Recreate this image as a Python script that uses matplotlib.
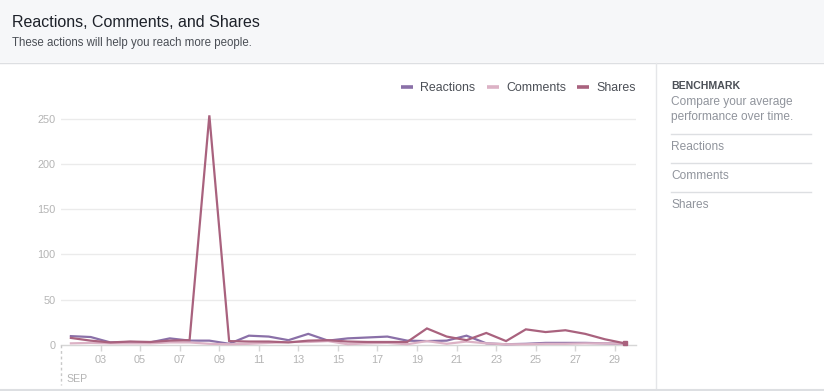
import matplotlib
matplotlib.use('Agg')
import matplotlib.pyplot as plt
from matplotlib.patches import Rectangle
from matplotlib.lines import Line2D

# daily values, Sep 1 .. Sep 29
days = list(range(1, 30))
reactions = [9.5, 8.5, 2.5, 3, 2.5, 7, 4.5, 4.5, 1, 10, 9, 5, 12, 4.5, 7, 8, 9, 4.5, 4, 4.5,
             10, 1.5, 0.5, 1, 2, 2, 2, 1.5, 1]
comments = [1.5, 2, 1.5, 1.5, 1.5, 2.5, 2.5, 1, 0.5, 1, 2, 3, 3, 4, 0.5, 1.5, 2, 0.5, 4, 1,
            3.5, 1.5, 0.5, 0.5, 1, 1, 1.5, 1.5, 1]
shares = [7.5, 4.5, 2.5, 3.5, 3, 4.5, 5, 254, 4, 3.5, 3.5, 2.5, 4.5, 5, 3.5, 3, 3, 3, 18, 9,
          5, 13, 4, 17, 14, 16, 12, 6, 1.5]

series_names = ['Reactions', 'Comments', 'Shares']
series_colors = ['#8a70a8', '#dcb2c5', '#a9627e']
y_ticks = [0, 50, 100, 150, 200, 250]
x_ticks = list(range(3, 30, 2))
x_labels = ['%02d' % d for d in x_ticks]

W, H = 824, 391
plt.rcParams['font.family'] = ['Liberation Sans', 'DejaVu Sans']

fig = plt.figure(figsize=(W / 100, H / 100), dpi=100)
fig.patch.set_facecolor('white')


def fx(x):
    return x / W


def fy(y):
    return 1 - y / H


# header band
fig.patches.append(Rectangle((0, fy(62)), 1, 62 / H, transform=fig.transFigure,
                             facecolor='#f6f7f9', edgecolor='none', zorder=0))
fig.lines.append(Line2D([0, 1], [fy(62.5), fy(62.5)], transform=fig.transFigure,
                        color='#dddfe2', lw=1))
fig.text(fx(12), fy(27), 'Reactions, Comments, and Shares', fontsize=11.5,
         color='#1d2129', va='baseline')
fig.text(fx(12), fy(46), 'These actions will help you reach more people.', fontsize=8.3,
         color='#4b4f56', va='baseline')

# borders
fig.lines.append(Line2D([fx(655.5), fx(655.5)], [fy(63), fy(389)], transform=fig.transFigure,
                        color='#e5e6e9', lw=1))
fig.lines.append(Line2D([0, 1], [fy(389.5), fy(389.5)], transform=fig.transFigure,
                        color='#dddfe2', lw=1.5))

# right benchmark panel
fig.text(fx(671), fy(89), 'BENCHMARK', fontsize=7.6, fontweight='bold', color='#4b4f56',
         va='baseline')
fig.text(fx(671), fy(105), 'Compare your average', fontsize=8.6, color='#90949c', va='baseline')
fig.text(fx(671), fy(120.5), 'performance over time.', fontsize=8.6, color='#90949c',
         va='baseline')
for yy in [133.5, 162.5, 191.5]:
    fig.lines.append(Line2D([fx(671), fx(811)], [fy(yy), fy(yy)], transform=fig.transFigure,
                            color='#dddfe2', lw=1))
for name, yy in zip(series_names, [150, 179, 208]):
    fig.text(fx(671), fy(yy), name, fontsize=8.6, color='#90949c', va='baseline')

# legend
for name, col, x0 in zip(series_names, series_colors, [401, 487, 577]):
    fig.lines.append(Line2D([fx(x0), fx(x0 + 12)], [fy(87), fy(87)], transform=fig.transFigure,
                            color=col, lw=2.6, solid_capstyle='butt'))
    fig.text(fx(x0 + 19), fy(91), name, fontsize=8.9, color='#4b4f56', va='baseline')

# plot area
left, right, bottom, top = 61, 636, 344.7, 100
ax = fig.add_axes([fx(left), fy(bottom), (right - left) / W, (bottom - top) / H])
ax.set_facecolor('none')
x0_day = 1
xmax = x0_day + (right - left) / 19.78
ymax = (bottom - top) / 0.903
ax.set_xlim(x0_day, xmax)
ax.set_ylim(0, ymax)

xs = [d + 0.5 for d in days]
for vals, col, z in zip([reactions, comments, shares], series_colors, [3, 4, 5]):
    ax.plot(xs, vals, color=col, lw=1.6, zorder=z, clip_on=False, solid_joinstyle='miter')
ax.plot([xs[-1]], [shares[-1]], marker='s', ms=3, color=series_colors[2], zorder=6,
        clip_on=False)

for s in ['top', 'right', 'left']:
    ax.spines[s].set_visible(False)
ax.spines['bottom'].set_color('#d6d6d6')
ax.spines['bottom'].set_linewidth(1)

ax.set_yticks(y_ticks)
ax.set_yticklabels([str(v) for v in y_ticks])
ax.tick_params(axis='y', length=0, pad=4, labelsize=7.8, labelcolor='#b4b4b4')
for v in y_ticks[1:]:
    ax.axhline(v, color='#ebebeb', lw=1, zorder=1)

ax.set_xticks(x_ticks)
ax.set_xticklabels(x_labels)
ax.tick_params(axis='x', length=4, width=1, color='#d6d6d6', pad=3.5, labelsize=7.8,
               labelcolor='#b4b4b4')

# month marker
fig.lines.append(Line2D([fx(61), fx(61)], [fy(345), fy(385)], transform=fig.transFigure,
                        color='#c8c8c8', lw=1, ls=(0, (2, 2))))
fig.text(fx(66), fy(382), 'SEP', fontsize=7.6, color='#b4b4b4', va='baseline')

fig.savefig('out.png', dpi=100)
